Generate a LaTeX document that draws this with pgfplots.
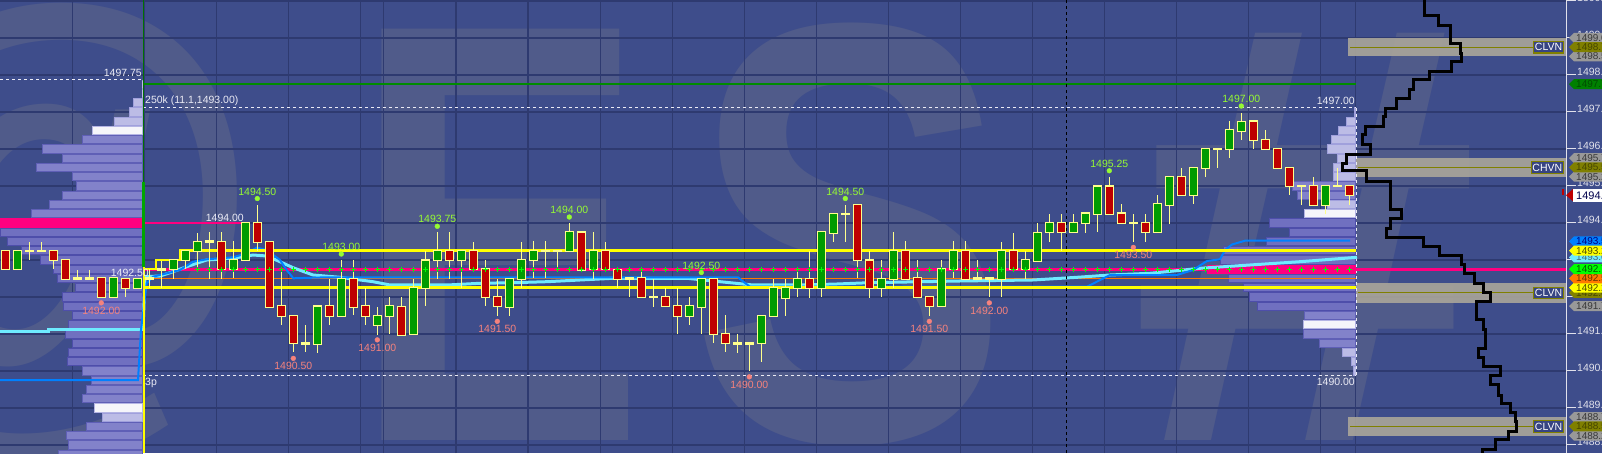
\documentclass[border=0pt]{standalone}
\usepackage{fontspec}
\setmainfont{Liberation Sans}
\usepackage{pgfplots}
\usepackage{pgfplotstable}
\pgfplotsset{compat=1.18}

\definecolor{bgc}{RGB}{62,77,139}
\definecolor{gridc}{RGB}{46,58,112}
\definecolor{wmc}{RGB}{80,91,138}
\definecolor{wick}{RGB}{255,255,140}
\definecolor{upc}{RGB}{0,155,0}
\definecolor{dnc}{RGB}{190,0,0}
\definecolor{magc}{RGB}{255,0,128}
\definecolor{yelc}{RGB}{255,255,0}
\definecolor{orac}{RGB}{255,120,0}
\definecolor{cyac}{RGB}{110,235,255}
\definecolor{bluc}{RGB}{0,128,255}
\definecolor{grnl}{RGB}{0,140,0}
\definecolor{plusc}{RGB}{0,255,0}
\definecolor{hic}{RGB}{150,250,50}
\definecolor{loc}{RGB}{245,130,125}
\definecolor{txtc}{RGB}{235,235,245}
\definecolor{tickc}{RGB}{225,225,235}
\definecolor{bandc}{RGB}{168,164,154}
\definecolor{olivec}{RGB}{128,128,0}
\definecolor{boxc}{RGB}{55,68,130}
\definecolor{plF}{RGB}{188,188,230}\definecolor{plB}{RGB}{160,160,220}
\definecolor{pmF}{RGB}{130,130,202}\definecolor{pmB}{RGB}{95,95,182}
\definecolor{pdF}{RGB}{112,112,192}\definecolor{pdB}{RGB}{78,78,170}
\definecolor{pwF}{RGB}{245,245,250}\definecolor{pwB}{RGB}{180,180,228}

\newcommand{\lblfont}{\fontsize{10.5}{12}\selectfont}
\newcommand{\tagfont}{\fontsize{10}{11}\selectfont}

\pgfplotstableread{
n O H L C
0 1493.25 1493.25 1492.75 1492.75
1 1492.75 1493.25 1492.75 1493.25
2 1493.25 1493.5 1493.0 1493.25
3 1493.25 1493.5 1493.25 1493.25
4 1493.25 1493.25 1492.75 1493.0
5 1493.0 1493.0 1492.5 1492.5
6 1492.5 1492.75 1492.5 1492.5
7 1492.5 1492.75 1492.5 1492.5
8 1492.5 1492.5 1492.0 1492.0
9 1492.0 1492.5 1492.0 1492.5
10 1492.5 1492.5 1492.0 1492.25
11 1492.25 1492.5 1492.25 1492.5
12 1492.5 1492.75 1492.25 1492.5
13 1492.75 1493.0 1492.25 1492.75
14 1492.75 1493.0 1492.5 1493.0
15 1493.0 1493.25 1492.75 1493.25
16 1493.25 1493.75 1492.75 1493.5
17 1493.5 1493.75 1492.5 1493.5
18 1493.5 1493.75 1492.5 1492.75
19 1492.75 1493.5 1492.5 1493.0
20 1493.0 1494.0 1493.0 1494.0
21 1494.0 1494.5 1493.25 1493.5
22 1493.5 1493.5 1491.75 1491.75
23 1491.75 1492.75 1491.25 1491.5
24 1491.5 1491.5 1490.5 1490.75
25 1490.75 1491.25 1490.5 1490.75
26 1490.75 1491.75 1490.5 1491.75
27 1491.75 1492.5 1491.25 1491.5
28 1491.5 1493.0 1491.5 1492.5
29 1492.5 1493.0 1491.5 1491.75
30 1491.75 1492.25 1491.25 1491.5
31 1491.25 1491.75 1491.0 1491.5
32 1491.5 1492.0 1491.0 1491.75
33 1491.75 1492.0 1491.0 1491.0
34 1491.0 1492.5 1491.0 1492.25
35 1492.25 1493.25 1491.75 1493.0
36 1493.0 1493.75 1492.5 1493.25
37 1493.25 1493.75 1492.5 1493.0
38 1493.0 1493.25 1492.25 1493.25
39 1493.25 1493.5 1492.75 1492.75
40 1492.75 1493.0 1491.75 1492.0
41 1492.0 1492.5 1491.5 1491.75
42 1491.75 1492.5 1491.5 1492.5
43 1492.5 1493.5 1492.25 1493.0
44 1493.0 1493.5 1492.5 1493.25
45 1493.25 1493.5 1492.5 1493.25
46 1493.25 1493.25 1492.75 1493.25
47 1493.25 1494.0 1493.25 1493.75
48 1493.75 1493.75 1492.75 1492.75
49 1492.75 1493.75 1492.5 1493.25
50 1493.25 1493.5 1492.75 1492.75
51 1492.75 1492.75 1492.25 1492.5
52 1492.5 1492.5 1492.0 1492.5
53 1492.5 1492.75 1492.0 1492.0
54 1492.0 1492.5 1491.75 1492.0
55 1492.0 1492.25 1491.75 1491.75
56 1491.75 1492.25 1491.0 1491.5
57 1491.5 1492.0 1491.25 1491.75
58 1491.75 1492.5 1491.0 1492.5
59 1492.5 1492.5 1490.75 1491.0
60 1491.0 1491.5 1490.5 1490.75
61 1490.75 1491.0 1490.5 1490.75
62 1490.75 1490.75 1490.0 1490.75
63 1490.75 1491.5 1490.25 1491.5
64 1491.5 1492.5 1491.5 1492.25
65 1492.0 1492.5 1491.5 1492.25
66 1492.25 1492.75 1492.0 1492.5
67 1492.5 1493.25 1492.0 1492.25
68 1492.25 1493.75 1492.0 1493.75
69 1493.75 1494.25 1493.5 1494.25
70 1494.25 1494.5 1493.5 1494.25
71 1494.5 1494.5 1492.5 1493.0
72 1493.0 1493.25 1492.0 1492.25
73 1492.25 1493.0 1492.0 1492.5
74 1492.5 1493.75 1492.25 1493.25
75 1493.25 1493.5 1492.5 1492.5
76 1492.5 1493.0 1492.0 1492.0
77 1492.0 1492.0 1491.5 1491.75
78 1491.75 1493.0 1491.75 1492.75
79 1492.75 1493.5 1492.5 1493.25
80 1493.25 1493.5 1492.5 1492.5
81 1492.5 1493.0 1492.5 1492.5
82 1492.5 1492.5 1492.0 1492.5
83 1492.5 1493.5 1492.0 1493.25
84 1493.25 1493.75 1492.75 1492.75
85 1492.75 1493.25 1492.5 1493.0
86 1493.0 1494.0 1493.0 1493.75
87 1493.75 1494.25 1493.5 1494.0
88 1494.0 1494.25 1493.25 1493.75
89 1493.75 1494.25 1493.75 1494.0
90 1494.0 1494.25 1493.75 1494.25
91 1494.25 1495.0 1493.75 1495.0
92 1495.0 1495.25 1494.25 1494.25
93 1494.25 1494.5 1494.0 1494.0
94 1494.0 1494.25 1493.5 1494.0
95 1494.0 1494.25 1493.5 1493.75
96 1493.75 1494.75 1493.75 1494.5
97 1494.5 1495.25 1494.0 1495.25
98 1495.25 1495.5 1494.75 1494.75
99 1494.75 1495.5 1494.5 1495.5
100 1495.5 1496.0 1495.25 1496.0
101 1496.0 1496.0 1495.5 1496.0
102 1496.0 1496.75 1495.75 1496.5
103 1496.5 1497.0 1496.25 1496.75
104 1496.75 1496.75 1496.0 1496.25
105 1496.25 1496.5 1496.0 1496.0
106 1496.0 1496.0 1495.5 1495.5
107 1495.5 1495.5 1494.75 1495.0
108 1495.0 1495.0 1494.5 1495.0
109 1495.0 1495.25 1494.5 1494.5
110 1494.5 1495.0 1494.25 1495.0
111 1495.0 1495.5 1495.0 1495.0
112 1495.0 1495.0 1494.5 1494.75
}\candles

% left profile (bars end at x=143)
\pgfplotstableread{
p L
1497.75 141.7
1497.5 141.7
1497.25 133.3
1497.0 129.3
1496.75 114.3
1488.75 102
}\pLlight
\pgfplotstableread{
p L
1496.5 92.3
1489.0 94
}\pLwhite
\pgfplotstableread{
p L
1496.25 81.7
1496.0 42.3
1495.75 62.3
1495.5 36
1495.25 72.3
1495.0 75.7
1494.75 61.7
1494.5 49.3
1494.25 30.7
1490.0 82
1489.75 91
1489.5 86
1489.25 82
1488.5 86
1488.25 66
1488.0 68
1487.75 58
}\pLmed
\pgfplotstableread{
p L
1493.75 0
1493.5 7.3
1493.25 20.7
1493.0 40
1492.75 53
1492.5 57
1492.25 75
1492.0 62
1491.75 63
1491.5 72
1491.25 68
1491.0 65
1490.75 72
1490.5 68
1490.25 67
}\pLdark
\pgfplotstableread{
p L
1494.0 0
}\pLpoc

% right profile (bars end at x=1356)
\pgfplotstableread{
p L
1497.0 1354
1496.75 1345.7
1496.5 1338.3
1496.25 1331
1496.0 1326.7
1495.75 1336.7
1495.5 1333
1495.25 1332.7
1494.5 1326.7
1490.5 1342.3
1490.25 1351
1490.0 1353.3
}\pRlight
\pgfplotstableread{
p L
1495.0 1291.7
1494.75 1296.7
1491.5 1304.3
1491.0 1303.3
1490.75 1319.3
}\pRmed
\pgfplotstableread{
p L
1494.0 1269.3
1493.75 1289.3
1493.5 1266.3
1493.25 1223.3
1493.0 1220
1492.5 1228.3
1492.25 1242.7
1492.0 1249.3
1491.75 1257.3
}\pRdark
\pgfplotstableread{
p L
1494.25 1304.3
1491.25 1302.7
}\pRwhite
\pgfplotstableread{
p L
1492.75 1207.3
}\pRpoc

% composite profile outline (x, pixel row from top)
\pgfplotstableread{
x y
1424 0
1424 15
1438.3 15
1438.3 25
1450 25
1450 43.3
1460 43.3
1460 53.3
1461.7 53.3
1461.7 61.7
1451.7 61.7
1451.7 71.7
1429.3 71.7
1429.3 80
1413.3 80
1413.3 89.3
1409.3 89.3
1409.3 98.3
1396.7 98.3
1396.7 108.3
1385 108.3
1385 116.7
1383.3 116.7
1383.3 126
1365 126
1365 135
1362.7 135
1362.7 144
1370 144
1370 154
1346.7 154
1346.7 163.3
1342.7 163.3
1342.7 170.7
1366 170.7
1366 181.7
1390 181.7
1390 209.3
1401.7 209.3
1401.7 218.3
1390 218.3
1390 228.3
1386.7 228.3
1386.7 237.3
1423.3 237.3
1423.3 246.7
1439.3 246.7
1439.3 256
1461.7 256
1461.7 265
1464 265
1464 274
1474 274
1474 283.3
1483.3 283.3
1483.3 292.7
1490 292.7
1490 301.7
1476 301.7
1476 320
1483.3 320
1483.3 330
1485.7 330
1485.7 348.3
1478.3 348.3
1478.3 357.3
1483.3 357.3
1483.3 366.7
1500.7 366.7
1500.7 375.7
1490 375.7
1490 385
1498.3 385
1498.3 395
1501.7 395
1501.7 403.3
1510 403.3
1510 412.3
1515 412.3
1515 421.7
1516.7 421.7
1516.7 431.7
1508.3 431.7
1508.3 440
1495 440
1495 450
1482.7 450
1482.7 453
}\stepline

\pgfplotstableread{
x y
143 330
145 276.7
160 276
173 271.7
186.7 266.7
206.7 260
233 258.3
253 255
266.7 256
280 261.7
293 267.7
313 275
340 277.3
373 281.7
390 285
413 285
447 285
480 283.3
513 282.7
547 281.7
580 280
613 278.3
687 278.3
720 281.7
753 285
803 285
837 284
870 282.7
960 281
1033 280
1077 277.3
1110 275
1150 273.3
1177 270.7
1200 268.3
1250 265
1300 261.7
1357 257.3
}\cyanline

\pgfplotstableread{
x y
0 380
138 380
141 330
146.7 283.3
153 276.7
166.7 273.3
180 270
193 261.7
206.7 259.3
233 257.3
246.7 253.3
256.7 247.7
266.7 250
280 260
286.7 270
293.3 278.3
320 277.5
738 277.3
745 283
750 286.7
1087 286.7
1110 275
1177 275
1193 270
1207 261
1220 259.3
1225 250
1232 244.5
1245 240.7
1350 240.7
}\blueline

\pgfplotsset{
  hbar/.style 2 args={draw=none, mark=none, forget plot, error bars/.cd, x dir=both, x explicit, error mark=none, error bar style={draw=#2, line width=#1, solid}},
  vbar/.style 2 args={draw=none, mark=none, forget plot, error bars/.cd, y dir=both, y explicit, error mark=none, error bar style={draw=#2, line width=#1, solid}},
}
\newcommand{\profile}[4]{%
  \addplot[hbar={9.25pt}{#4}] table[x expr={(\thisrow{L}+#2)/2}, y=p, x error expr={(#2-\thisrow{L})/2}] {#1};
  \addplot[hbar={7.25pt}{#3}] table[x expr={(\thisrow{L}+#2)/2}, y=p, x error expr={(#2-\thisrow{L})/2-1}] {#1};
}
\newcommand{\ptag}[4]{%
  \pgfmathsetmacro\ty{202.3+(#1-1493.25)*37}%
  \fill[#2] (1569pt,\ty pt) -- ++(5pt,5pt) -- ++(45pt,0pt) -- ++(0pt,-10pt) -- ++(-45pt,0pt) -- cycle;
  \node[anchor=west, inner sep=0pt, text=#3, font=\tagfont] at (1576pt,\ty pt) {#4};%
}

\begin{document}
\begin{tikzpicture}
\fill[bgc] (0,0) rectangle (1602pt,453pt);
% watermark
\begin{scope}
\clip (0,0) rectangle (1566pt,453pt);
\node[anchor=center, inner sep=0pt, text=wmc, font=\fontsize{540}{540}\selectfont\bfseries, xscale=0.85] at (40pt,215pt) {@};
\node[anchor=base west, inner sep=0pt, text=wmc, font=\fontsize{598}{600}\selectfont\bfseries, xscale=0.735] at (352pt,13pt) {E};
\node[anchor=base west, inner sep=0pt, text=wmc, font=\fontsize{598}{600}\selectfont\bfseries, xscale=0.8] at (690pt,13pt) {S};
\node[anchor=base west, inner sep=0pt, text=wmc, font=\fontsize{598}{600}\selectfont\bfseries, xscale=1.05] at (1130pt,13pt) {\#};
\end{scope}

\begin{axis}[
  at={(0,0)}, anchor=south west,
  scale only axis, width=1566pt, height=453pt,
  xmin=0, xmax=1566, ymin=1487.7824, ymax=1500.0257,
  axis line style={draw=none},
  xtick=\empty,
  extra x ticks={72.4,144.4,216.3,288.3,360.7,383.7,456,528,600.5,672.4,744.4,816.8,888.3,960.7,1032.7,1104.6,1176.5,1248.5,1320.4,1355.5},
  extra x tick labels={},
  extra x tick style={grid=major, major tick length=0pt},
  ytick={1488,1489,...,1500},
  minor y tick num=3,
  ymajorgrids,
  grid style={color=gridc, line width=1.2pt},
  ytick pos=right, yticklabel pos=right,
  tick align=outside,
  major tick length=10pt, minor tick length=5pt,
  tick style={color=tickc, line width=1pt},
  yticklabel={\pgfmathprintnumber[fixed,fixed zerofill,precision=1,1000 sep={},assume math mode=true]{\tick}},
  yticklabel style={font=\lblfont, text=tickc, anchor=west, inner sep=0pt, xshift=1pt, yshift=3pt},
]
% profiles
\profile{\pLlight}{143}{plF}{plB}
\profile{\pLmed}{143}{pmF}{pmB}
\profile{\pLdark}{143}{pdF}{pdB}
\profile{\pLwhite}{143}{pwF}{pwB}
\profile{\pLpoc}{143}{magc}{magc}
\profile{\pRlight}{1356}{plF}{plB}
\profile{\pRmed}{1356}{pmF}{pmB}
\profile{\pRdark}{1356}{pdF}{pdB}
\profile{\pRwhite}{1356}{pwF}{pwB}
\profile{\pRpoc}{1356}{magc}{magc}

% value-node bands
\addplot[fill=bandc, draw=none, fill opacity=0.92, forget plot] coordinates {(1348,1498.5) (1566,1498.5) (1566,1499.0) (1348,1499.0)} -- cycle;
\addplot[fill=bandc, draw=none, fill opacity=0.92, forget plot] coordinates {(1356,1495.25) (1566,1495.25) (1566,1495.75) (1356,1495.75)} -- cycle;
\addplot[fill=bandc, draw=none, fill opacity=0.92, forget plot] coordinates {(1356,1491.84) (1566,1491.84) (1566,1492.38) (1356,1492.38)} -- cycle;
\addplot[fill=bandc, draw=none, fill opacity=0.92, forget plot] coordinates {(1348,1488.25) (1566,1488.25) (1566,1488.75) (1348,1488.75)} -- cycle;
\addplot[olivec, line width=1.2pt, forget plot] coordinates {(1350,1498.75) (1534,1498.75)};
\addplot[olivec, line width=1.2pt, forget plot] coordinates {(1358,1495.5) (1532,1495.5)};
\addplot[olivec, line width=1.2pt, forget plot] coordinates {(1358,1492.11) (1534,1492.11)};
\addplot[olivec, line width=1.2pt, forget plot] coordinates {(1350,1488.5) (1534,1488.5)};

% reference lines
\addplot[txtc, dashed, line width=0.8pt, forget plot] coordinates {(0,1497.8905) (143,1497.8905)};
\addplot[txtc, dashed, line width=0.8pt, forget plot] coordinates {(143,1497.1338) (1356,1497.1338)};
\addplot[txtc, dashed, line width=0.8pt, forget plot] coordinates {(143,1489.8905) (1356,1489.8905)};
\addplot[txtc, dashed, line width=0.8pt, forget plot] coordinates {(1356,1489.8905) (1356,1497.1338)};
\addplot[grnl, line width=1.5pt, forget plot] coordinates {(144,1497.75) (1356,1497.75)};
\addplot[magc, line width=2pt, forget plot] coordinates {(143,1494.0) (245,1494.0)};
\addplot[magc, line width=3pt, forget plot] coordinates {(144,1492.75) (1566,1492.75)};
\addplot[orac, line width=1.5pt, forget plot] coordinates {(144,1492.5) (1356,1492.5)};
% previous-session lines
\addplot[cyac, line width=3pt, forget plot] coordinates {(0,1491.07) (48,1491.07) (48,1491.11) (143,1491.11)};
\addplot[cyac, line width=3pt, forget plot] table[x=x, y expr={1493.25-(\thisrow{y}-250.7)/37}] {\cyanline};
\addplot[bluc, line width=2pt, forget plot] table[x=x, y expr={1493.25-(\thisrow{y}-250.7)/37}] {\blueline};
% initial balance
\addplot[yelc, line width=2.5pt, forget plot] coordinates {(144,1492.75) (156,1492.75) (156,1493.0) (180,1493.0) (180,1493.25) (1356,1493.25)};
\addplot[yelc, line width=2.5pt, forget plot] coordinates {(144,1492.25) (1356,1492.25)};
% session divider
\addplot[green!45!black, line width=1pt, forget plot] coordinates {(143.5,1500.03) (143.5,1495.1)};
\addplot[green!65!black, line width=3pt, forget plot] coordinates {(143.5,1495.1) (143.5,1492.81)};
\addplot[yelc, line width=2pt, forget plot] coordinates {(143.5,1492.81) (143.5,1487.78)};
% session time marker
\addplot[black, dashed, line width=1pt, forget plot] coordinates {(1066.5,1487.78) (1066.5,1500.03)};
% POC markers
\addplot[only marks, mark=+, mark size=2.5pt, mark options={line width=1.3pt, draw=plusc}, skip coords between index={0}{16}, forget plot] table[x expr={5.3+12*\thisrow{n}}, y expr={1492.75}] {\candles};

% candles
\addplot[vbar={1.2pt}{wick}] table[x expr={5.3+12*\thisrow{n}}, y expr={(\thisrow{H}+\thisrow{L})/2}, y error expr={(\thisrow{H}-\thisrow{L})/2}] {\candles};
\addplot[vbar={9pt}{wick}] table[x expr={5.3+12*\thisrow{n}}, y expr={(\thisrow{O}+\thisrow{C})/2}, y error expr={abs(\thisrow{O}-\thisrow{C})/2+0.03}] {\candles};
\addplot[vbar={7pt}{upc}] table[x expr={5.3+12*\thisrow{n}}, y expr={(\thisrow{O}+\thisrow{C})/2}, y error expr={max(\thisrow{C}-\thisrow{O},0)/2}] {\candles};
\addplot[vbar={7pt}{dnc}] table[x expr={5.3+12*\thisrow{n}}, y expr={(\thisrow{O}+\thisrow{C})/2}, y error expr={max(\thisrow{O}-\thisrow{C},0)/2}] {\candles};

% swing labels
\addplot[only marks, mark=*, mark size=2.4pt, color=hic, point meta=explicit symbolic, nodes near coords, nodes near coords style={anchor=south, inner sep=0pt, yshift=3pt, font=\lblfont, text=hic}, forget plot] coordinates {
(257.3,1494.66) [1494.50]
(341.3,1493.16) [1493.00]
(437.3,1493.91) [1493.75]
(569.3,1494.16) [1494.00]
(701.3,1492.66) [1492.50]
(845.3,1494.66) [1494.50]
(1109.3,1495.41) [1495.25]
(1241.3,1497.16) [1497.00]
};
\addplot[only marks, mark=*, mark size=2.4pt, color=loc, point meta=explicit symbolic, nodes near coords, nodes near coords style={anchor=north, inner sep=0pt, yshift=-4pt, font=\lblfont, text=loc}, forget plot] coordinates {
(101.3,1491.84) [1492.00]
(293.3,1490.34) [1490.50]
(377.3,1490.84) [1491.00]
(497.3,1491.34) [1491.50]
(749.3,1489.84) [1490.00]
(929.3,1491.34) [1491.50]
(989.3,1491.84) [1492.00]
(1133.3,1493.34) [1493.50]
};

% composite profile outline
\addplot[black, line width=3pt, line join=miter, forget plot] table[x=x, y expr={1493.25-(\thisrow{y}-250.7)/37}] {\stepline};

% text annotations
\node[anchor=east, inner sep=0pt, text=txtc, font=\lblfont] at (axis cs:142,1498.053) {1497.75};
\node[anchor=west, inner sep=0pt, text=txtc, font=\lblfont] at (axis cs:145,1497.296) {250k (11.1,1493.00)};
\node[anchor=east, inner sep=0pt, text=txtc, font=\lblfont] at (axis cs:244,1494.147) {1494.00};
\node[anchor=east, inner sep=0pt, text=txtc, font=\lblfont] at (axis cs:149,1492.655) {1492.50};
\node[anchor=east, inner sep=0pt, text=txtc, font=\lblfont] at (axis cs:1355,1497.296) {1497.00};
\node[anchor=east, inner sep=0pt, text=txtc, font=\lblfont] at (axis cs:1355,1489.701) {1490.00};
\node[anchor=west, inner sep=0pt, text=txtc, font=\lblfont] at (axis cs:145,1489.674) {3p};
% node labels
\node[anchor=east, draw=olivec, line width=1.2pt, fill=boxc, text=white, font=\lblfont, inner xsep=1.2pt, inner ysep=2pt] at (axis cs:1564,1498.75) {CLVN};
\node[anchor=east, draw=olivec, line width=1.2pt, fill=boxc, text=white, font=\lblfont, inner xsep=1.2pt, inner ysep=2pt] at (axis cs:1564,1495.5) {CHVN};
\node[anchor=east, draw=olivec, line width=1.2pt, fill=boxc, text=white, font=\lblfont, inner xsep=1.2pt, inner ysep=2pt] at (axis cs:1564,1492.11) {CLVN};
\node[anchor=east, draw=olivec, line width=1.2pt, fill=boxc, text=white, font=\lblfont, inner xsep=1.2pt, inner ysep=2pt] at (axis cs:1564,1488.5) {CLVN};
\end{axis}

% price axis line
\draw[tickc, line width=1pt] (1566pt,0pt) -- (1566pt,453pt);
% price tags
\ptag{1499.0}{gray!80}{gray!45!black}{1499.00}
\ptag{1498.5}{gray!80}{gray!45!black}{1498.50}
\ptag{1498.75}{olivec}{olivec!55!black}{1498.75}
\ptag{1497.75}{green!50!black}{green!30!black}{1497.75}
\ptag{1495.75}{gray!80}{gray!45!black}{1495.75}
\ptag{1495.25}{gray!80}{gray!45!black}{1495.25}
\ptag{1495.5}{olivec}{olivec!55!black}{1495.50}
\ptag{1491.75}{gray!80}{gray!45!black}{1491.75}
\ptag{1492.11}{olivec}{olivec!55!black}{1492.00}
\ptag{1493.07}{cyac}{cyan!40!black}{1493.06}
\ptag{1493.5}{bluc}{blue!50!black}{1493.50}
\ptag{1493.25}{yelc}{olivec!60!black}{1493.25}
\ptag{1492.25}{yelc}{olivec!60!black}{1492.25}
\ptag{1492.5}{orac}{orange!40!black}{1492.50}
\ptag{1492.75}{plusc}{green!35!black}{1492.75}
\ptag{1488.75}{gray!80}{gray!45!black}{1488.75}
\ptag{1488.25}{gray!80}{gray!45!black}{1488.25}
\ptag{1488.5}{olivec}{olivec!55!black}{1488.50}
% last price
\fill[red!75!black] (1566pt,257.8pt) -- (1573pt,264pt) -- (1573pt,251.6pt) -- cycle;
\fill[white] (1573pt,251pt) rectangle (1610pt,263.5pt);
\node[anchor=west, inner sep=0pt, text=blue!30!black, font=\fontsize{11}{12}\selectfont] at (1576pt,257.3pt) {1494.75};
\fill[red!75!black] (1562pt,258pt) rectangle (1564pt,264pt);

\pgfresetboundingbox
\useasboundingbox (0,0) rectangle (1602pt,453pt);
\end{tikzpicture}
\end{document}
